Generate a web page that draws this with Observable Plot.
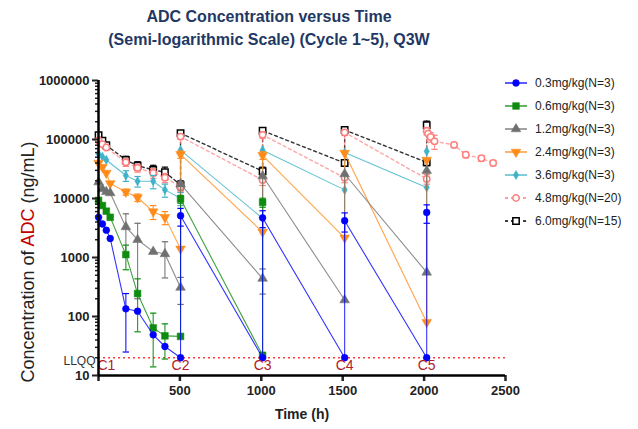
<!DOCTYPE html>
<html><head><meta charset="utf-8">
<script src="https://cdn.jsdelivr.net/npm/d3@7"></script>
<script src="https://cdn.jsdelivr.net/npm/@observablehq/plot@0.6"></script>
<style>
body{margin:0;background:#fff;font-family:"Liberation Sans",Arial,sans-serif;}
#wrap{position:relative;width:638px;height:429px;overflow:hidden;}
#title{position:absolute;left:12px;top:5px;width:514px;text-align:center;font-weight:bold;font-size:16px;line-height:23px;color:#1f3864;}
#chart{position:absolute;left:0;top:58px;}
#legend{position:absolute;left:502px;top:71px;font-size:12px;color:#222;}
.row{height:23px;display:flex;align-items:center;white-space:nowrap;}
.row svg{margin-right:3px;}
</style></head><body>
<div id="wrap">
<div id="title">ADC Concentration versus Time<br>(Semi-logarithmic Scale) (Cycle 1~5), Q3W</div>
<div id="chart"></div>
<div id="legend"></div>
</div>
<script>
// ---- data ----
const seriesNames = ["0.3mg/kg(N=3)", "0.6mg/kg(N=3)", "1.2mg/kg(N=3)", "2.4mg/kg(N=3)", "3.6mg/kg(N=3)", "4.8mg/kg(N=20)", "6.0mg/kg(N=15)"];
// sampling times (h); dose times appear twice: pre-dose then post-dose
const times = [0.5, 24, 48, 72, 168, 240, 336, 408, 504, 504, 1008, 1008, 1512, 1512, 2016, 2016];
const tailTimes = [2024, 2040, 2064, 2184, 2256, 2352, 2424];

const v03 = [4800, 3700, 2900, 2100, 135, 123, 49, 31, 20, 5100, 20, 4700, 20, 4200, 20, 5800];
const v06 = [9300, 7600, 6100, 4800, 1120, 245, 64, 47, 46, 9800, 22, 8600, null, null, null, null];
const v12 = [19000, 14500, 13000, 12400, 3300, 2000, 1260, 1150, 310, 17500, 440, 24000, 190, 26000, 560, 29500];
const v24 = [40000, 34000, 27000, 18000, 12900, 10400, 6000, 4800, 1400, 56000, 2700, 54000, 2150, 59000, 80, 45000];
const v36 = [57000, 51000, 45000, null, 24500, 19600, 19600, 14000, 10100, 66000, 4600, 66000, 14000, 60000, 15400, 63000];
const v48 = [96000, 83000, 73000, null, 41000, 33000, 27000, 22500, 16000, 112000, 20600, 120000, 22500, 132000, 21500, 140000];
const v48tail = [126000, 110000, 93000, 81000, 55000, 48000, 40000];
const v60 = [118000, 95000, 80000, null, 45000, 36000, 30500, 28000, 17000, 128000, 29000, 141000, 40000, 145000, 41000, 175000];

// standard deviations (0 = no visible bar)
const sd03 = [0, 0, 0, 0, 110, 0, 0, 0, 0, 1700, 0, 1500, 0, 1500, 0, 2000];
const sd06 = [0, 0, 0, 0, 500, 190, 50, 28, 0, 1500, 0, 1500, 0, 0, 0, 0];
const sd12 = [0, 0, 0, 0, 2200, 1800, 0, 700, 150, 0, 200, 0, 0, 0, 0, 0];
const sd24 = [0, 0, 0, 0, 1500, 1500, 1600, 1200, 0, 8000, 0, 8000, 0, 0, 0, 0];
const sd36 = [0, 0, 0, 0, 5000, 4000, 5000, 3500, 2500, 0, 0, 0, 0, 0, 0, 0];
const sd48 = [0, 0, 0, 0, 6000, 5000, 5000, 4000, 3000, 10000, 4000, 15000, 4000, 15000, 4000, 20000];
const sd48tail = [0, 20000, 25000, 8000, 6000, 5000, 4000];
const sd60 = [0, 0, 0, 0, 7000, 6000, 6000, 6000, 3000, 12000, 5000, 15000, 5000, 15000, 5000, 30000];

const cycleLabels = ["C1", "C2", "C3", "C4", "C5"];
const doseTimes = [0, 504, 1008, 1512, 2016];
const LLOQ = 20;
const yMajor = [10, 100, 1000, 10000, 100000, 1000000];
const xTicks = [0, 500, 1000, 1500, 2000, 2500];

// ---- styles ----
const colors = ["#0000ff", "#0f8c0f", "#707070", "#ff8c1a", "#3fb1c9", "#ff7f7f", "#000000"];
const symbols = ["circle", "square", "triangle", "triangle", "diamond", "circle", "square"];
const rotates = [0, 0, 0, 180, 0, 0, 0];
const filled = [true, true, true, true, true, false, false];
const dashed = [false, false, false, false, false, true, true];
const radii = [3.4, 3.8, 3.6, 3.6, 2.8, 3.2, 3.6];

function build(ts, vs, sds) {
  return ts.map((t, i) => ({t, v: vs[i], sd: sds[i]})).filter(d => d.v != null);
}
const data = [
  build(times, v03, sd03),
  build(times, v06, sd06),
  build(times, v12, sd12),
  build(times, v24, sd24),
  build(times, v36, sd36),
  build(times.concat(tailTimes), v48.concat(v48tail), sd48.concat(sd48tail)),
  build(times, v60, sd60)
];

const capSymbol = {draw(ctx, size) { const w = Math.sqrt(size) / 2; ctx.moveTo(-w, 0); ctx.lineTo(w, 0); }};

const minor = [];
for (let e = 1; e < 6; e++) for (let k = 2; k <= 9; k++) minor.push(k * 10 ** e);

const drawOrder = [6, 5, 4, 3, 2, 1, 0];
const marks = [];
marks.push(Plot.ruleY([LLOQ], {stroke: "#ff3b3b", strokeWidth: 1.3, strokeDasharray: "2,3"}));
for (const i of drawOrder) {
  const d = data[i];
  const c = colors[i];
  marks.push(Plot.line(d, {x: "t", y: "v", stroke: c, strokeWidth: dashed[i] ? 1.4 : 1.1, strokeOpacity: i === 5 ? 0.7 : 0.8, strokeDasharray: dashed[i] ? "3,3" : null}));
  const e = d.filter(r => r.sd > 0);
  const lo = r => Math.max(r.v - r.sd, 12);
  const hi = r => r.v + r.sd;
  marks.push(Plot.ruleX(e, {x: "t", y1: lo, y2: hi, stroke: c, strokeWidth: 1.2, strokeOpacity: 0.85}));
  marks.push(Plot.dot(e, {x: "t", y: lo, symbol: capSymbol, r: 3.6, stroke: c, strokeWidth: 1.2}));
  marks.push(Plot.dot(e, {x: "t", y: hi, symbol: capSymbol, r: 3.6, stroke: c, strokeWidth: 1.2}));
  marks.push(Plot.dot(d, {x: "t", y: "v", symbol: symbols[i], rotate: rotates[i], r: radii[i],
    fill: filled[i] ? c : "white", stroke: c, strokeWidth: filled[i] ? 0.5 : 1.5}));
}
const cyc = cycleLabels.map((c, i) => ({c, t: doseTimes[i]}));
marks.push(Plot.text(cyc.slice(1), {x: "t", y: () => LLOQ, text: "c", dy: 8, fill: "#b0202a", fontSize: 14, fontWeight: "normal"}));
marks.push(Plot.text(cyc.slice(0, 1), {x: "t", y: () => LLOQ, text: "c", dy: 8, dx: -1, textAnchor: "start", fill: "#b0202a", fontSize: 14, fontWeight: "normal"}));
marks.push(Plot.text(["LLQQ"], {x: () => 0, y: () => LLOQ, text: d => d, textAnchor: "end", dx: -3, dy: 3, fill: "#333", fontSize: 12, fontWeight: "normal"}));
marks.push(Plot.axisY({ticks: minor, tickSize: 3, tickFormat: () => "", label: null, strokeWidth: 1.5}));
marks.push(Plot.axisY({ticks: yMajor, tickSize: 6, tickPadding: 3, tickFormat: d3.format("d"), label: null, strokeWidth: 2}));
marks.push(Plot.axisX({ticks: xTicks, tickSize: 6, tickPadding: 4, tickFormat: d => d === 0 ? "" : String(d), label: null, strokeWidth: 2.5}));
marks.push(Plot.ruleX([0], {stroke: "#000", strokeWidth: 2.5}));
marks.push(Plot.ruleY([10], {stroke: "#000", strokeWidth: 2.5}));
marks.push(Plot.text(["Time (h)"], {frameAnchor: "bottom", text: d => d, dy: 43, fontSize: 14, fontWeight: "bold", fill: "#222"}));

const svg = Plot.plot({
  width: 638, height: 371,
  marginTop: 22, marginBottom: 54, marginLeft: 98, marginRight: 133,
  x: {domain: [0, 2500]},
  y: {type: "log", domain: [10, 1000000]},
  style: {fontFamily: "'Liberation Sans', Arial, sans-serif", fontSize: "13px", fontWeight: "bold", color: "#222", background: "white"},
  marks
});
document.getElementById("chart").appendChild(svg);

// y axis title with coloured "ADC"
const yt = d3.select(svg).append("text")
  .attr("transform", "translate(28,204) rotate(-90)")
  .attr("text-anchor", "middle").attr("dominant-baseline", "central")
  .style("font-size", "18px").style("font-weight", "normal").attr("fill", "#222");
yt.append("tspan").text("Concentration of ");
yt.append("tspan").attr("fill", "#c00000").text("ADC");
yt.append("tspan").text(" (ng/mL)");

// legend
const leg = d3.select("#legend");
seriesNames.forEach((name, i) => {
  const row = leg.append("div").attr("class", "row");
  const s = row.append("svg").attr("width", 30).attr("height", 12);
  s.append("line").attr("x1", 3).attr("x2", 25).attr("y1", 6).attr("y2", 6)
    .attr("stroke", colors[i]).attr("stroke-width", 1.3)
    .attr("stroke-dasharray", dashed[i] ? "3,3" : null);
  const symMap = {circle: d3.symbolCircle, square: d3.symbolSquare, triangle: d3.symbolTriangle, diamond: d3.symbolDiamond};
  s.append("path").attr("d", d3.symbol(symMap[symbols[i]], Math.PI * radii[i] * radii[i])())
    .attr("transform", `translate(14,6) rotate(${rotates[i]})`)
    .attr("fill", filled[i] ? colors[i] : "white").attr("stroke", colors[i])
    .attr("stroke-width", filled[i] ? 0.5 : 1.5);
  row.append("span").text(name);
});
</script>
</body></html>
